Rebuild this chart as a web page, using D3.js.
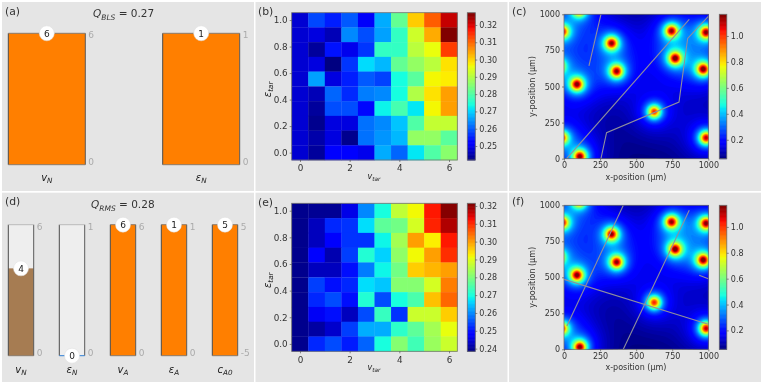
<!DOCTYPE html>
<html>
<head>
<meta charset="utf-8">
<script src="https://cdnjs.cloudflare.com/ajax/libs/d3/7.8.5/d3.min.js"></script>
<style>
  html, body { margin: 0; padding: 0; background: #fff; }
  svg { display: block; filter: blur(0.4px); }
  text { font-family: "DejaVu Sans", sans-serif; }
</style>
</head>
<body>
<div class="chart"></div>
<script>
// parameter sliders
const barsTop = [
  {name: "v", sub: "N", value: 6, min: 0, max: 6, low: "0", high: "6"},
  {name: "ε", sub: "N", value: 1, min: 0, max: 1, low: "0", high: "1"}
];
const barsBottom = [
  {name: "v", sub: "N", value: 4, min: 0, max: 6, low: "0", high: "6", muted: true},
  {name: "ε", sub: "N", value: 0, min: 0, max: 1, low: "0", high: "1"},
  {name: "v", sub: "A", value: 6, min: 0, max: 6, low: "0", high: "6"},
  {name: "ε", sub: "A", value: 1, min: 0, max: 1, low: "0", high: "1"},
  {name: "c", sub: "A0", value: 5, min: -5, max: 5, low: "-5", high: "5"}
];

// heatmaps: rows run from eps_tar = 1.0 down to 0.0, columns v_tar = 0 .. 6
const vTar = [0, 0.667, 1.333, 2, 2.667, 3.333, 4, 4.667, 5.333, 6];
const epsTar = [1, 0.889, 0.778, 0.667, 0.556, 0.444, 0.333, 0.222, 0.111, 0];
const heatB = [
  [.248,.2585,.255,.26,.251,.267,.282,.301,.311,.322],
  [.248,.249,.246,.264,.259,.266,.277,.293,.304,.327],
  [.248,.244,.254,.25,.257,.277,.277,.291,.296,.314],
  [.248,.249,.242,.257,.271,.268,.282,.287,.291,.299],
  [.248,.266,.249,.255,.26,.258,.274,.281,.297,.298],
  [.248,.246,.261,.256,.263,.264,.274,.29,.299,.305],
  [.248,.244,.259,.259,.253,.273,.279,.272,.297,.305],
  [.248,.243,.249,.249,.262,.264,.269,.28,.292,.292],
  [.248,.245,.249,.243,.262,.265,.268,.287,.287,.281],
  [.248,.244,.252,.252,.25,.267,.261,.272,.28,.286]
];
const heatE = [
  [.2395,.24,.24,.246,.26,.27,.287,.292,.312,.321],
  [.2395,.243,.252,.253,.267,.277,.279,.289,.311,.318],
  [.2395,.243,.248,.253,.253,.269,.284,.3,.293,.312],
  [.2395,.249,.242,.254,.271,.266,.282,.292,.3,.31],
  [.2395,.243,.243,.25,.259,.269,.279,.296,.298,.3],
  [.2395,.254,.25,.252,.267,.265,.281,.281,.289,.303],
  [.2395,.252,.255,.25,.271,.255,.27,.275,.297,.305],
  [.2395,.247,.25,.243,.255,.273,.253,.288,.288,.296],
  [.2395,.241,.244,.254,.263,.263,.272,.277,.284,.291],
  [.2395,.252,.255,.251,.257,.27,.281,.274,.283,.288]
];
const heatTicksB = [.25,.26,.27,.28,.29,.30,.31,.32];
const heatTicksE = [.24,.25,.26,.27,.28,.29,.30,.31,.32];

// hot spots of the spatial maps: x, y (um), peak
const spots = [
  [110,15,1.15],[985,145,1.12],[625,325,1.02],[90,515,1.12],[365,605,1.1],
  [330,800,1.1],[770,695,1.1],[745,885,1.08],[985,875,1.12],[965,620,1.14],
  [-12,880,1.05],[-15,145,1.0],[105,1030,1.05],[-40,640,1.0]
];
const mapTicks = [0, 250, 500, 750, 1000];
const mapBarTicks = [.2,.4,.6,.8,1.0];

// cable tracks drawn over the maps
const tracksC = [
  [[173,642],[256,1000]],
  [[18,0],[868,965]],
  [[256,0],[295,180],[797,392],[857,833],[1000,985]]
];
const tracksF = [
  [[20,162],[411,1000]],
  [[411,0],[868,965]],
  [[0,486],[1000,174]],
  [[937,514],[1000,490]]
];

const grey = "#e5e5e5", orange = "#ff7f00", brown = "#a67c52";
const inkText = "#333", spine = "#707070";

const svg = d3.select(".chart").append("svg")
  .attr("width", 763)
  .attr("height", 384);

svg.append("rect").attr("width", 763).attr("height", 384).attr("fill", "#fff");

// panel backgrounds
const panels = [
  [2,2,252,189],[255.5,2,252,189],[509,2,252,189],
  [2,192.7,252,189.3],[255.5,192.7,252,189.3],[509,192.7,252,189.3]
];
svg.selectAll(".panel").data(panels).enter().append("rect")
  .attr("class", "panel")
  .attr("x", d=>d[0]).attr("y", d=>d[1])
  .attr("width", d=>d[2]).attr("height", d=>d[3])
  .attr("fill", grey);

// matplotlib jet
const jetR = d3.scaleLinear().domain([0,.35,.66,.89,1]).range([0,0,255,255,128]);
const jetG = d3.scaleLinear().domain([0,.125,.375,.64,.91,1]).range([0,0,255,255,0,0]);
const jetB = d3.scaleLinear().domain([0,.11,.34,.65,1]).range([128,255,255,0,0]);
const jet = t => `rgb(${jetR(t)|0},${jetG(t)|0},${jetB(t)|0})`;

function panelLabel(txt, x, y) {
  svg.append("text").attr("x", x).attr("y", y)
    .attr("font-size", 10.8).attr("fill", inkText).text(txt);
}

function mathLabel(g, name, sub, x, y, size) {
  const t = g.append("text").attr("x", x).attr("y", y)
    .attr("text-anchor", "middle")
    .attr("font-size", size).attr("font-style", "italic").attr("fill", "#222");
  t.append("tspan").text(name);
  t.append("tspan").attr("font-size", size * 0.72).attr("dy", size * 0.22).text(sub);
  return t;
}

function title(sym, sub, val, x, y) {
  const t = svg.append("text").attr("x", x).attr("y", y)
    .attr("font-size", 10.5).attr("fill", inkText);
  t.append("tspan").attr("font-style", "italic").text(sym);
  t.append("tspan").attr("font-style", "italic").attr("font-size", 7.5).attr("dy", 2.5).text(sub);
  t.append("tspan").attr("dy", -2.5).text(" = " + val);
}

// slider style bars
function drawBars(list, xs, w, top, bottom, labelY) {
  list.forEach((d, i) => {
    const g = svg.append("g");
    const x0 = xs[i], cx = x0 + w / 2;
    const y = d3.scaleLinear().domain([d.min, d.max]).range([bottom, top]);
    g.append("rect").attr("x", x0).attr("y", top)
      .attr("width", w).attr("height", bottom - top).attr("fill", "#eeeeee");
    g.append("rect").attr("x", x0).attr("y", y(d.value))
      .attr("width", w).attr("height", bottom - y(d.value))
      .attr("fill", d.muted ? brown : orange);
    g.append("line").attr("x1", x0).attr("x2", x0).attr("y1", top).attr("y2", bottom)
      .attr("stroke", "#4a4a4a").attr("stroke-width", 1);
    g.append("line").attr("x1", x0 + w).attr("x2", x0 + w).attr("y1", top).attr("y2", bottom)
      .attr("stroke", "#5a5a5a").attr("stroke-width", 1);
    g.append("line").attr("x1", x0).attr("x2", x0 + w).attr("y1", top).attr("y2", top)
      .attr("stroke", d.value == d.max ? "#8a7a6a" : "#bbb").attr("stroke-width", 1);
    g.append("line").attr("x1", x0).attr("x2", x0 + w).attr("y1", bottom).attr("y2", bottom)
      .attr("stroke", d.value == d.min ? "#2f7fd6" : "#8a7a6a").attr("stroke-width", 1);
    g.append("circle").attr("cx", cx).attr("cy", y(d.value)).attr("r", 7.5)
      .attr("fill", "#fff").attr("stroke", "#ddd").attr("stroke-width", 0.5);
    g.append("text").attr("x", cx).attr("y", y(d.value) + 3.2)
      .attr("text-anchor", "middle").attr("font-size", 9).attr("fill", "#222").text(d.value);
    g.append("text").attr("x", x0 + w + 3).attr("y", top + 5)
      .attr("font-size", 9).attr("fill", "#aaa").text(d.high);
    g.append("text").attr("x", x0 + w + 3).attr("y", bottom)
      .attr("font-size", 9).attr("fill", "#aaa").text(d.low);
    mathLabel(g, d.name, d.sub, cx, labelY, 10);
  });
}

function styleAxis(g, size) {
  g.select(".domain").remove();
  g.selectAll(".tick line").attr("stroke", "#444").attr("stroke-width", 0.6);
  g.selectAll(".tick text").attr("fill", inkText).attr("font-size", size || 8)
    .attr("font-family", '"DejaVu Sans", sans-serif');
}

function frame(x0, y0, w, h) {
  svg.append("rect").attr("x", x0).attr("y", y0).attr("width", w).attr("height", h)
    .attr("fill", "none").attr("stroke", spine).attr("stroke-width", 0.8);
}

function colorbar(x0, w, y0, y1, domain, ticks, fmt) {
  const y = d3.scaleLinear().domain(domain).range([y1, y0]);
  const g = svg.append("g");
  g.selectAll("rect").data(d3.range(256)).enter().append("rect")
    .attr("x", x0).attr("width", w)
    .attr("y", d => y0 + (y1 - y0) * (255 - d) / 256)
    .attr("height", (y1 - y0) / 256 + 0.5)
    .attr("fill", d => jet(d / 255));
  frame(x0, y0, w, y1 - y0);
  const ax = svg.append("g").attr("transform", `translate(${x0 + w},0)`)
    .call(d3.axisRight(y).tickValues(ticks).tickFormat(d3.format(fmt)).tickSize(2).tickPadding(2));
  styleAxis(ax);
}

function heatmap(values, ticks, domain, y0, y1) {
  const x0 = 291.7, x1 = 457.3;
  const x = d3.scaleLinear().domain([-1/3, 19/3]).range([x0, x1]);
  const y = d3.scaleLinear().domain([-0.0555, 1.0555]).range([y1, y0]);
  const t = d3.scaleLinear().domain(domain).range([0, 1]);
  const cells = values.flatMap((row, r) => row.map((v, c) => ({v, c, r})));
  const dx = x(vTar[1]) - x(vTar[0]), dy = y(epsTar[1]) - y(epsTar[0]);
  svg.append("g").selectAll("rect").data(cells).enter().append("rect")
    .attr("x", d => x(vTar[d.c]) - dx / 2)
    .attr("y", d => y(epsTar[d.r]) - dy / 2)
    .attr("width", dx + 0.3)
    .attr("height", dy + 0.3)
    .attr("fill", d => jet(t(d.v)));
  frame(x0, y0, x1 - x0, y1 - y0);
  styleAxis(svg.append("g").attr("transform", `translate(0,${y1})`)
    .call(d3.axisBottom(x).tickValues([0,2,4,6]).tickFormat(d3.format("d")).tickSize(2).tickPadding(3)), 8.8);
  styleAxis(svg.append("g").attr("transform", `translate(${x0},0)`)
    .call(d3.axisLeft(y).tickValues([0,.2,.4,.6,.8,1]).tickFormat(d3.format(".1f")).tickSize(2).tickPadding(2)), 8.8);
  mathLabel(svg, "v", "tar", 374, y1 + 19, 8);
  const lab = svg.append("g").attr("transform", `translate(271,${(y0 + y1) / 2 + 3}) rotate(-90)`);
  mathLabel(lab, "ε", "tar", 0, 0, 10);
  colorbar(467.3, 8, y0, y1, domain, ticks, ".2f");
}

// field behind the spatial maps, built from the hot spot list
const n = 181;
const gridX = d3.scaleLinear().domain([0, n - 1]).range([0, 1000]);
const field = new Array(n * n);
for (let j = 0; j < n; j++) {
  for (let i = 0; i < n; i++) {
    const ux = gridX(i), uy = gridX(j);
    let f = 0.05;
    spots.forEach(s => {
      const r2 = (ux - s[0]) ** 2 + (uy - s[1]) ** 2;
      const k = (s[2] - 0.05) / 1.1;
      f += k * (0.55 * Math.exp(-r2 / (36 * 36)) + 0.38 * Math.exp(-r2 / (66 * 66)) + 0.1 * Math.exp(-r2 / (140 * 140)) + 0.07 * Math.exp(-r2 / (240 * 240)));
    });
    field[j * n + i] = f;
  }
}

let clipId = 0;
function spatial(tracks, y0, y1) {
  const x0 = 564, x1 = 708.3;
  const x = d3.scaleLinear().domain([0, 1000]).range([x0, x1]);
  const y = d3.scaleLinear().domain([0, 1000]).range([y1, y0]);
  const domain = [0.054, 1.167];
  const t = d3.scaleLinear().domain(domain).range([0, 1]);
  const levels = d3.range(0.056, 1.167, 0.012);
  const contours = d3.contours().size([n, n]).smooth(true).thresholds(levels)(field);
  const proj = d3.geoTransform({
    point(px, py) {
      this.stream.point(x(gridX(px - 0.5)), y(gridX(py - 0.5)));
    }
  });
  const path = d3.geoPath(proj);
  const id = "clip" + (clipId++);
  svg.append("clipPath").attr("id", id).append("rect")
    .attr("x", x0).attr("y", y0).attr("width", x1 - x0).attr("height", y1 - y0);
  const g = svg.append("g").attr("clip-path", `url(#${id})`);
  g.append("rect").attr("x", x0).attr("y", y0).attr("width", x1 - x0).attr("height", y1 - y0)
    .attr("fill", jet(0));
  g.selectAll("path").data(contours).enter().append("path")
    .attr("d", path).attr("fill", d => jet(t(d.value)));
  const line = d3.line().x(d => x(d[0])).y(d => y(d[1]));
  g.selectAll(".track").data(tracks).enter().append("path")
    .attr("class", "track").attr("d", line)
    .attr("fill", "none").attr("stroke", "#8f8f9c").attr("stroke-width", 1.1);
  frame(x0, y0, x1 - x0, y1 - y0);
  styleAxis(svg.append("g").attr("transform", `translate(0,${y1})`)
    .call(d3.axisBottom(x).tickValues(mapTicks).tickFormat(d3.format("d")).tickSize(2).tickPadding(2)));
  styleAxis(svg.append("g").attr("transform", `translate(${x0},0)`)
    .call(d3.axisLeft(y).tickValues(mapTicks).tickFormat(d3.format("d")).tickSize(2).tickPadding(2)));
  svg.append("text").attr("x", 636).attr("y", y1 + 21).attr("text-anchor", "middle")
    .attr("font-size", 8).attr("fill", inkText).text("x-position (μm)");
  svg.append("text").attr("transform", `translate(535,${(y0 + y1) / 2}) rotate(-90)`)
    .attr("text-anchor", "middle").attr("font-size", 8).attr("fill", inkText).text("y-position (μm)");
  colorbar(719.3, 7.5, y0, y1, domain, mapBarTicks, ".1f");
}

drawBars(barsTop, [8.3, 162.7], 77, 33.3, 164.7, 181);
drawBars(barsBottom, [8.3, 59.3, 110.3, 161.3, 212.3], 25.4, 224.7, 355.7, 372.5);
heatmap(heatB, heatTicksB, [0.2419, 0.3271], 12.7, 160);
heatmap(heatE, heatTicksE, [0.2385, 0.3215], 203.3, 351.3);
spatial(tracksC, 14.3, 158.7);
spatial(tracksF, 205.3, 349.3);

title("Q", "BLS", "0.27", 93, 17);
title("Q", "RMS", "0.28", 91, 208);
panelLabel("(a)", 5, 15);
panelLabel("(b)", 258, 15);
panelLabel("(c)", 512, 15);
panelLabel("(d)", 5, 205);
panelLabel("(e)", 258, 206);
panelLabel("(f)", 512, 205);
</script>
</body>
</html>
